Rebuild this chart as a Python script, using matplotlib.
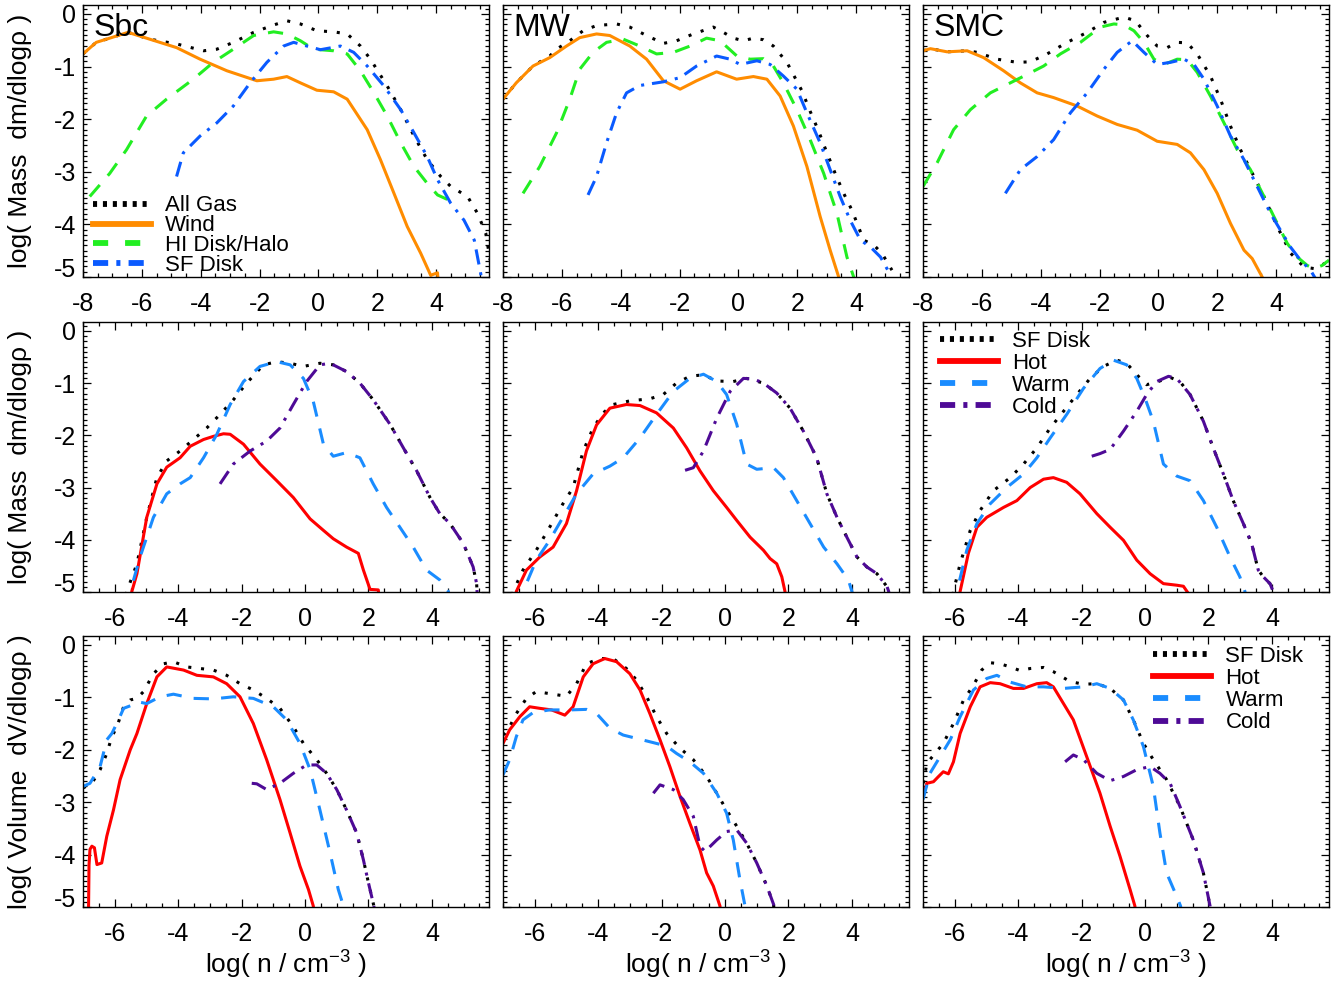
import matplotlib
matplotlib.use("Agg")
import matplotlib.pyplot as plt
from matplotlib.ticker import MultipleLocator
from matplotlib.transforms import ScaledTranslation

plt.rcParams['font.family'] = ['Liberation Sans', 'DejaVu Sans']
plt.rcParams['axes.unicode_minus'] = False
plt.rcParams['mathtext.default'] = 'regular'

# ---------------- data: top row (Mass, gas components) ----------------
sbc_all_x = [-8.0, -7.55, -7.09, -6.47, -5.73, -4.82, -3.9, -3.45, -2.89, -2.2, -1.52, -1.07, -0.61, -0.05, 0.52, 0.98, 1.43, 1.77, 2.34, 2.8, 3.25, 3.7, 4.16, 4.5, 5.07, 5.41, 5.69, 5.84]
sbc_all_y = [-0.76, -0.54, -0.46, -0.35, -0.48, -0.57, -0.70, -0.67, -0.54, -0.35, -0.21, -0.13, -0.19, -0.32, -0.34, -0.38, -0.61, -0.86, -1.37, -1.82, -2.32, -2.77, -3.09, -3.28, -3.47, -3.79, -4.17, -4.68]
sbc_wind_x = [-8.0, -7.55, -7.09, -6.47, -5.73, -4.82, -4.02, -3.11, -2.09, -1.52, -1.07, -0.61, -0.05, 0.52, 0.98, 1.66, 2.11, 2.57, 3.02, 3.48, 3.82, 3.9, 4.05, 4.1]
sbc_wind_y = [-0.76, -0.54, -0.46, -0.35, -0.48, -0.64, -0.86, -1.08, -1.27, -1.24, -1.19, -1.31, -1.45, -1.48, -1.62, -2.2, -2.77, -3.41, -4.04, -4.55, -4.97, -4.95, -4.92, -5.3]
sbc_hi_x = [-7.77, -7.09, -6.52, -5.84, -5.16, -4.25, -3.57, -2.89, -2.2, -1.52, -1.07, -0.61, -0.16, 0.52, 0.98, 1.43, 1.89, 2.34, 2.8, 3.25, 3.7, 4.05, 4.44]
sbc_hi_y = [-3.47, -3.03, -2.58, -1.94, -1.62, -1.24, -0.92, -0.67, -0.41, -0.34, -0.38, -0.51, -0.67, -0.70, -0.76, -1.08, -1.5, -1.94, -2.45, -2.9, -3.22, -3.44, -3.54]
sbc_sf_x = [-4.82, -4.59, -4.02, -3.45, -2.89, -2.32, -1.75, -1.18, -0.84, -0.39, 0.07, 0.75, 1.2, 1.66, 2.23, 2.8, 3.25, 3.7, 4.05, 4.5, 4.95, 5.3, 5.52, 5.58]
sbc_sf_y = [-3.09, -2.64, -2.32, -2.07, -1.75, -1.31, -0.92, -0.61, -0.54, -0.61, -0.68, -0.61, -0.73, -0.99, -1.37, -1.82, -2.26, -2.71, -3.15, -3.6, -3.92, -4.3, -4.94, -5.3]

mw_all_x = [-8.0, -7.55, -6.98, -6.41, -6.18, -5.73, -5.28, -4.82, -4.14, -3.69, -3.12, -2.55, -2.1, -1.53, -0.85, -0.51, -0.17, 0.17, 0.51, 0.85, 1.19, 1.65, 2.16, 2.44, 2.73, 3.01, 3.29, 3.58, 3.86, 4.26, 4.6, 4.88, 5.22]
mw_all_y = [-1.62, -1.31, -0.99, -0.80, -0.67, -0.51, -0.32, -0.22, -0.19, -0.25, -0.41, -0.56, -0.51, -0.38, -0.25, -0.35, -0.46, -0.51, -0.46, -0.49, -0.61, -0.92, -1.46, -1.85, -2.23, -2.64, -3.03, -3.41, -3.73, -4.3, -4.39, -4.55, -4.87]
mw_wind_x = [-8.0, -7.55, -6.98, -6.41, -5.84, -5.39, -4.82, -4.37, -3.69, -3.12, -2.55, -1.98, -1.42, -0.74, -0.06, 0.51, 0.97, 1.42, 1.87, 2.33, 2.78, 3.12, 3.41, 3.5]
mw_wind_y = [-1.62, -1.31, -0.99, -0.83, -0.61, -0.45, -0.38, -0.41, -0.61, -0.86, -1.27, -1.43, -1.27, -1.1, -1.24, -1.19, -1.24, -1.56, -2.13, -2.9, -3.85, -4.49, -5.0, -5.3]
mw_hi_x = [-7.32, -6.75, -6.18, -5.73, -5.39, -4.94, -4.48, -3.91, -3.35, -2.78, -2.21, -1.64, -1.08, -0.62, -0.05, 0.4, 0.85, 1.19, 1.53, 1.99, 2.44, 2.9, 3.35, 3.69, 3.92, 3.98]
mw_hi_y = [-3.41, -2.9, -2.26, -1.62, -1.05, -0.73, -0.54, -0.48, -0.61, -0.76, -0.73, -0.61, -0.46, -0.51, -0.80, -0.86, -0.85, -0.99, -1.31, -1.82, -2.39, -3.03, -3.79, -4.62, -5.0, -5.3]
mw_sf_x = [-5.11, -4.82, -4.48, -4.14, -3.8, -3.35, -2.55, -1.98, -1.42, -0.74, -0.28, 0.06, 0.63, 1.08, 1.53, 1.99, 2.33, 2.78, 3.12, 3.46, 3.8, 4.15, 4.49, 4.83, 5.11]
mw_sf_y = [-3.44, -3.09, -2.45, -1.88, -1.5, -1.36, -1.29, -1.21, -0.99, -0.80, -0.86, -0.96, -0.89, -0.96, -1.18, -1.43, -1.88, -2.45, -2.96, -3.47, -3.92, -4.3, -4.43, -4.62, -4.9]

smc_all_x = [-8.0, -7.75, -7.18, -6.5, -6.16, -5.48, -4.8, -4.35, -3.78, -3.1, -2.42, -1.85, -1.17, -0.78, -0.38, -0.04, 0.3, 0.64, 0.98, 1.32, 1.77, 2.11, 2.45, 2.79, 3.25, 3.59, 4.04, 4.5, 4.95, 5.29, 5.63, 5.8]
smc_all_y = [-0.70, -0.66, -0.72, -0.70, -0.73, -0.86, -0.92, -0.91, -0.76, -0.54, -0.35, -0.16, -0.06, -0.13, -0.41, -0.61, -0.64, -0.54, -0.55, -0.76, -1.18, -1.62, -2.13, -2.58, -3.09, -3.47, -4.04, -4.55, -4.81, -4.84, -4.75, -4.68]
smc_wind_x = [-8.0, -7.75, -7.18, -6.5, -5.94, -5.26, -4.69, -4.12, -3.56, -2.76, -2.08, -1.4, -0.72, -0.04, 0.64, 1.09, 1.55, 2.0, 2.45, 2.91, 3.19, 3.53, 3.6]
smc_wind_y = [-0.70, -0.66, -0.72, -0.70, -0.83, -1.08, -1.31, -1.5, -1.59, -1.75, -1.94, -2.1, -2.21, -2.42, -2.48, -2.64, -2.96, -3.41, -3.98, -4.49, -4.65, -5.0, -5.3]
smc_hi_x = [-8.0, -7.52, -6.96, -6.39, -5.71, -5.14, -4.46, -3.9, -3.33, -2.65, -1.97, -1.51, -1.17, -0.83, -0.49, -0.15, 0.19, 0.64, 0.98, 1.32, 1.77, 2.23, 2.68, 3.13, 3.59, 4.04, 4.38, 4.72, 5.06, 5.29, 5.57, 5.8]
smc_hi_y = [-3.28, -2.83, -2.2, -1.82, -1.5, -1.34, -1.15, -0.99, -0.76, -0.54, -0.25, -0.19, -0.21, -0.32, -0.54, -0.86, -0.96, -0.86, -0.87, -1.11, -1.56, -2.07, -2.58, -2.96, -3.47, -3.98, -4.36, -4.62, -4.78, -4.84, -4.78, -4.68]
smc_sf_x = [-5.2, -4.69, -4.12, -3.56, -2.99, -2.42, -1.85, -1.4, -0.89, -0.49, -0.04, 0.41, 0.87, 1.21, 1.55, 2.0, 2.45, 2.91, 3.36, 3.81, 4.15, 4.49, 4.83, 5.17, 5.34]
smc_sf_y = [-3.41, -2.96, -2.71, -2.39, -1.88, -1.5, -1.05, -0.73, -0.51, -0.73, -0.96, -0.92, -0.86, -0.96, -1.24, -1.75, -2.32, -2.77, -3.28, -3.79, -4.11, -4.43, -4.68, -4.87, -5.03]

# ---------------- data: middle row (Mass, SF disk phases) ----------------
m_sbc_all_x = [-5.7, -5.62, -5.3, -4.99, -4.67, -4.36, -3.94, -3.52, -3.1, -2.68, -2.26, -1.84, -1.31, -0.89, -0.47, -0.05, 0.47, 0.89, 1.31, 1.73, 2.15, 2.68, 3.1, 3.52, 3.94, 4.25, 4.57, 4.99, 5.3, 5.41, 5.45]
m_sbc_all_y = [-5.3, -4.99, -4.46, -3.57, -2.81, -2.49, -2.3, -2.08, -1.86, -1.6, -1.32, -1.0, -0.65, -0.59, -0.62, -0.68, -0.62, -0.65, -0.78, -1.0, -1.32, -1.79, -2.24, -2.68, -3.19, -3.5, -3.69, -4.07, -4.52, -4.84, -5.3]
m_sbc_hot_x = [-5.5, -5.46, -5.3, -4.99, -4.67, -4.36, -3.94, -3.62, -3.2, -2.89, -2.57, -2.36, -1.94, -1.42, -0.89, -0.37, 0.16, 0.58, 0.89, 1.31, 1.68, 1.84, 2.05, 2.31, 2.36]
m_sbc_hot_y = [-5.3, -4.99, -4.65, -3.57, -2.93, -2.61, -2.43, -2.21, -2.08, -2.02, -1.97, -1.98, -2.17, -2.55, -2.87, -3.19, -3.6, -3.82, -3.98, -4.14, -4.26, -4.58, -4.95, -4.96, -5.3]
m_sbc_warm_x = [-5.56, -5.51, -5.2, -4.78, -4.36, -3.94, -3.62, -3.2, -2.78, -2.36, -1.94, -1.42, -0.89, -0.47, -0.05, 0.26, 0.58, 0.89, 1.31, 1.73, 2.15, 2.57, 2.99, 3.41, 3.83, 4.25, 4.52, 4.6]
m_sbc_warm_y = [-5.3, -4.99, -4.33, -3.57, -3.12, -2.93, -2.81, -2.43, -1.98, -1.41, -0.97, -0.68, -0.59, -0.65, -0.91, -1.35, -2.17, -2.4, -2.33, -2.43, -2.93, -3.38, -3.76, -4.14, -4.58, -4.77, -4.99, -5.3]
m_sbc_cold_x = [-2.68, -2.26, -1.73, -1.21, -0.79, -0.37, 0.05, 0.47, 0.79, 1.31, 1.73, 2.15, 2.68, 3.1, 3.52, 3.94, 4.25, 4.57, 4.99, 5.3, 5.41, 5.45]
m_sbc_cold_y = [-2.93, -2.55, -2.3, -2.11, -1.86, -1.41, -0.97, -0.65, -0.62, -0.78, -1.0, -1.32, -1.79, -2.24, -2.68, -3.19, -3.5, -3.69, -4.07, -4.52, -4.84, -5.3]

m_mw_all_x = [-6.75, -6.68, -6.37, -5.95, -5.53, -5.11, -4.79, -4.47, -4.16, -3.84, -3.53, -3.0, -2.37, -1.95, -1.53, -1.11, -0.68, -0.26, 0.26, 0.68, 1.21, 1.63, 2.05, 2.47, 2.89, 3.21, 3.53, 3.84, 4.16, 4.47, 4.79, 5.11, 5.16, 5.2]
m_mw_all_y = [-5.3, -4.99, -4.58, -4.2, -3.76, -3.31, -3.0, -2.3, -1.86, -1.57, -1.41, -1.34, -1.3, -1.22, -1.0, -0.87, -0.84, -0.96, -0.97, -0.91, -1.0, -1.19, -1.48, -1.92, -2.43, -3.12, -3.57, -3.95, -4.33, -4.52, -4.65, -4.9, -4.99, -5.3]
m_mw_hot_x = [-6.65, -6.58, -6.26, -5.84, -5.42, -5.0, -4.68, -4.37, -4.05, -3.63, -3.11, -2.68, -2.16, -1.63, -1.21, -0.79, -0.37, 0.05, 0.37, 0.79, 1.21, 1.42, 1.63, 1.79, 1.89, 1.92]
m_mw_hot_y = [-5.3, -4.99, -4.58, -4.33, -4.14, -3.69, -3.06, -2.3, -1.8, -1.48, -1.41, -1.43, -1.57, -1.86, -2.24, -2.68, -3.06, -3.38, -3.63, -3.95, -4.2, -4.36, -4.46, -4.71, -4.99, -5.3]
m_mw_warm_x = [-6.43, -6.37, -5.95, -5.53, -5.11, -4.68, -4.16, -3.63, -3.21, -2.68, -2.16, -1.63, -1.11, -0.68, -0.26, 0.05, 0.37, 0.68, 1.0, 1.53, 1.84, 2.26, 2.68, 3.11, 3.53, 3.89, 4.0, 4.05]
m_mw_warm_y = [-5.3, -4.99, -4.39, -4.01, -3.57, -3.12, -2.74, -2.59, -2.43, -2.05, -1.6, -1.16, -0.91, -0.83, -0.97, -1.22, -1.79, -2.55, -2.65, -2.62, -2.81, -3.25, -3.69, -4.14, -4.46, -4.77, -4.99, -5.3]
m_mw_cold_x = [-1.26, -1.0, -0.68, -0.26, 0.16, 0.58, 0.89, 1.21, 1.63, 2.05, 2.47, 2.89, 3.21, 3.53, 3.84, 4.16, 4.47, 4.79, 5.11, 5.16, 5.2]
m_mw_cold_y = [-2.67, -2.62, -2.3, -1.67, -1.16, -0.91, -0.92, -1.0, -1.19, -1.48, -1.92, -2.43, -3.12, -3.57, -3.95, -4.33, -4.52, -4.65, -4.9, -4.99, -5.3]

m_smc_all_x = [-6.1, -6.04, -5.83, -5.51, -5.2, -4.78, -4.25, -3.83, -3.41, -2.99, -2.57, -2.15, -1.73, -1.31, -0.89, -0.58, -0.26, 0.05, 0.37, 0.79, 1.1, 1.42, 1.84, 2.15, 2.47, 2.78, 3.1, 3.36, 3.57, 3.73, 3.94, 4.04, 4.1]
m_smc_all_y = [-5.3, -4.99, -4.46, -3.82, -3.44, -3.06, -2.81, -2.55, -2.24, -1.86, -1.54, -1.22, -0.91, -0.68, -0.56, -0.62, -0.84, -1.03, -0.98, -0.89, -0.97, -1.22, -1.73, -2.24, -2.74, -3.25, -3.69, -4.07, -4.58, -4.71, -4.84, -4.99, -5.3]
m_smc_hot_x = [-5.88, -5.83, -5.57, -5.3, -4.99, -4.46, -4.04, -3.62, -3.2, -2.89, -2.47, -2.05, -1.52, -1.1, -0.68, -0.26, 0.16, 0.58, 1.0, 1.21, 1.37, 1.45]
m_smc_hot_y = [-5.3, -4.99, -4.26, -3.76, -3.57, -3.38, -3.25, -3.0, -2.84, -2.81, -2.9, -3.12, -3.5, -3.76, -4.01, -4.39, -4.65, -4.84, -4.87, -4.89, -5.03, -5.3]
m_smc_warm_x = [-5.98, -5.93, -5.62, -5.3, -4.88, -4.36, -3.83, -3.41, -2.99, -2.47, -1.94, -1.42, -1.0, -0.58, -0.26, 0.0, 0.26, 0.58, 1.0, 1.42, 1.84, 2.26, 2.68, 2.99, 3.15, 3.2]
m_smc_warm_y = [-5.3, -4.99, -4.2, -3.69, -3.31, -3.0, -2.74, -2.43, -2.05, -1.6, -1.1, -0.72, -0.56, -0.65, -0.91, -1.29, -1.73, -2.55, -2.78, -2.87, -3.25, -3.76, -4.33, -4.71, -4.99, -5.3]
m_smc_cold_x = [-1.68, -1.42, -1.1, -0.68, -0.26, 0.05, 0.37, 0.74, 1.0, 1.42, 1.84, 2.15, 2.47, 2.78, 3.1, 3.36, 3.57, 3.73, 3.94, 4.04, 4.1]
m_smc_cold_y = [-2.4, -2.35, -2.27, -1.92, -1.54, -1.22, -0.97, -0.87, -0.91, -1.22, -1.73, -2.24, -2.74, -3.25, -3.69, -4.07, -4.58, -4.71, -4.84, -4.99, -5.3]

# ---------------- data: bottom row (Volume, SF disk phases) ----------------
v_sbc_all_x = [-7.0, -6.72, -6.46, -6.25, -6.09, -5.93, -5.72, -5.51, -5.3, -5.09, -4.78, -4.46, -4.15, -3.73, -3.31, -2.89, -2.47, -2.05, -1.63, -1.21, -0.79, -0.37, -0.05, 0.37, 0.68, 1.0, 1.31, 1.63, 1.84, 2.0, 2.17, 2.22]
v_sbc_all_y = [-2.73, -2.64, -2.38, -2.07, -1.75, -1.56, -1.18, -1.05, -1.02, -0.89, -0.55, -0.36, -0.32, -0.42, -0.45, -0.48, -0.58, -0.74, -0.86, -1.02, -1.21, -1.56, -1.88, -2.19, -2.45, -2.76, -3.15, -3.59, -4.1, -4.54, -4.98, -5.3]
v_sbc_hot_x = [-6.83, -6.81, -6.78, -6.72, -6.64, -6.56, -6.41, -6.25, -6.04, -5.83, -5.51, -5.3, -4.99, -4.67, -4.36, -3.83, -3.41, -2.89, -2.47, -2.05, -1.63, -1.21, -0.79, -0.47, -0.16, 0.11, 0.26, 0.32]
v_sbc_hot_y = [-5.3, -4.2, -3.9, -3.84, -3.87, -4.19, -4.16, -3.65, -3.15, -2.57, -2.0, -1.69, -1.12, -0.61, -0.42, -0.48, -0.58, -0.61, -0.74, -0.99, -1.5, -2.19, -2.95, -3.59, -4.22, -4.67, -4.98, -5.3]
v_sbc_warm_x = [-7.0, -6.78, -6.46, -6.25, -6.09, -5.88, -5.72, -5.46, -5.3, -4.99, -4.57, -4.15, -3.52, -2.89, -2.26, -1.63, -1.0, -0.58, -0.16, 0.16, 0.47, 0.79, 1.05, 1.21, 1.27]
v_sbc_warm_y = [-2.7, -2.64, -2.32, -1.81, -1.69, -1.43, -1.21, -1.15, -1.08, -1.12, -0.99, -0.94, -1.02, -1.03, -0.99, -1.02, -1.18, -1.43, -1.88, -2.38, -3.15, -3.97, -4.67, -4.98, -5.3]
v_sbc_cold_x = [-1.68, -1.52, -1.21, -0.79, -0.37, 0.05, 0.37, 0.68, 1.0, 1.31, 1.63, 1.84, 2.0, 2.17, 2.22]
v_sbc_cold_y = [-2.64, -2.65, -2.76, -2.64, -2.45, -2.29, -2.29, -2.45, -2.76, -3.15, -3.59, -4.1, -4.54, -4.98, -5.3]

v_mw_all_x = [-7.0, -6.79, -6.58, -6.26, -5.95, -5.53, -5.0, -4.68, -4.37, -3.95, -3.53, -3.11, -2.79, -2.47, -2.16, -1.84, -1.42, -1.0, -0.58, -0.26, 0.05, 0.37, 0.68, 1.0, 1.32, 1.53, 1.58]
v_mw_all_y = [-1.72, -1.56, -1.31, -1.02, -0.89, -0.93, -0.98, -0.74, -0.36, -0.26, -0.26, -0.45, -0.67, -0.99, -1.37, -1.69, -1.97, -2.19, -2.51, -2.83, -3.15, -3.46, -3.78, -4.16, -4.6, -4.95, -5.3]
v_mw_hot_x = [-7.0, -6.79, -6.47, -6.16, -5.84, -5.47, -5.05, -4.79, -4.47, -4.16, -3.79, -3.42, -3.0, -2.68, -2.37, -2.05, -1.74, -1.42, -1.11, -0.79, -0.58, -0.37, -0.16, -0.12]
v_mw_hot_y = [-1.88, -1.62, -1.37, -1.18, -1.21, -1.24, -1.34, -1.18, -0.61, -0.36, -0.26, -0.32, -0.55, -0.86, -1.31, -1.81, -2.32, -2.89, -3.4, -3.91, -4.35, -4.6, -4.98, -5.3]
v_mw_warm_x = [-7.0, -6.79, -6.58, -6.37, -6.05, -5.53, -4.89, -4.37, -4.05, -3.63, -3.21, -2.68, -2.16, -1.84, -1.53, -1.11, -0.68, -0.26, 0.05, 0.26, 0.47, 0.63, 0.66]
v_mw_warm_y = [-2.48, -2.19, -1.75, -1.43, -1.29, -1.24, -1.24, -1.23, -1.31, -1.59, -1.72, -1.8, -1.88, -1.93, -2.07, -2.23, -2.45, -2.83, -3.21, -3.72, -4.48, -4.98, -5.3]
v_mw_cold_x = [-2.26, -2.05, -1.63, -1.32, -1.0, -0.79, -0.63, -0.26, 0.05, 0.37, 0.68, 1.0, 1.32, 1.53, 1.58]
v_mw_cold_y = [-2.83, -2.67, -2.76, -2.95, -3.27, -3.84, -3.94, -3.72, -3.56, -3.53, -3.78, -4.16, -4.6, -4.95, -5.3]

v_smc_all_x = [-6.99, -6.88, -6.62, -6.36, -6.04, -5.72, -5.41, -5.15, -4.88, -4.57, -4.25, -3.94, -3.62, -3.2, -2.89, -2.36, -1.94, -1.52, -1.1, -0.68, -0.37, -0.05, 0.26, 0.68, 1.1, 1.52, 1.84, 2.05, 2.1]
v_smc_all_y = [-2.64, -2.26, -2.07, -1.88, -1.5, -1.05, -0.77, -0.48, -0.34, -0.36, -0.42, -0.49, -0.45, -0.43, -0.51, -0.7, -0.75, -0.74, -0.83, -1.05, -1.43, -1.88, -2.19, -2.57, -3.08, -3.72, -4.35, -4.98, -5.3]
v_smc_hot_x = [-7.0, -6.88, -6.67, -6.51, -6.36, -6.2, -6.04, -5.83, -5.51, -5.2, -4.88, -4.57, -4.15, -3.83, -3.41, -3.1, -2.89, -2.57, -2.26, -1.84, -1.42, -1.1, -0.79, -0.47, -0.32, -0.28]
v_smc_hot_y = [-2.89, -2.64, -2.61, -2.51, -2.42, -2.46, -2.23, -1.69, -1.18, -0.8, -0.72, -0.74, -0.83, -0.83, -0.74, -0.72, -0.8, -1.12, -1.43, -2.13, -2.83, -3.46, -4.03, -4.67, -4.98, -5.3]
v_smc_warm_x = [-7.0, -6.78, -6.46, -6.14, -5.83, -5.41, -4.99, -4.67, -4.25, -3.73, -3.2, -2.57, -1.94, -1.52, -1.1, -0.68, -0.37, -0.05, 0.26, 0.47, 0.68, 0.95, 1.12, 1.18]
v_smc_warm_y = [-2.95, -2.45, -2.13, -1.81, -1.37, -0.86, -0.64, -0.58, -0.71, -0.8, -0.8, -0.83, -0.8, -0.74, -0.83, -1.05, -1.43, -1.94, -2.7, -3.59, -4.35, -4.73, -4.98, -5.3]
v_smc_cold_x = [-2.52, -2.26, -1.94, -1.52, -1.1, -0.68, -0.26, 0.16, 0.47, 0.79, 1.1, 1.52, 1.84, 2.05, 2.1]
v_smc_cold_y = [-2.23, -2.1, -2.19, -2.45, -2.59, -2.51, -2.38, -2.32, -2.45, -2.64, -3.08, -3.72, -4.35, -4.98, -5.3]

galaxy_names = ["Sbc", "MW", "SMC"]
top_labels = ["All Gas", "Wind", "HI Disk/Halo", "SF Disk"]
phase_labels = ["SF Disk", "Hot", "Warm", "Cold"]
x_ticks_top = [-8, -6, -4, -2, 0, 2, 4]
x_ticks_low = [-6, -4, -2, 0, 2, 4]
y_ticks = [0, -1, -2, -3, -4, -5]

# ---------------- styles ----------------
DOT = (0, (1, 3.2))
DASH = (0, (5, 4))
DASHDOT = (0, (5, 2.6, 1, 2.6))
LW = 2.2
# legend handles are drawn thicker, with their own (shorter) patterns
LEG_LS = [(0, (0.7, 1.0)), "-", (0, (2.6, 2.9)), (0, (2.6, 1.4, 0.7, 1.4))]
top_styles = [dict(color="black", ls=DOT), dict(color="#FF8C00", ls="-"),
              dict(color="#22EE22", ls=DASH), dict(color="#0A5AFF", ls=DASHDOT)]
phase_styles = [dict(color="black", ls=DOT), dict(color="#FF0000", ls="-"),
                dict(color="#1A8CFF", ls=DASH), dict(color="#4E0A96", ls=DASHDOT)]

top_series = [
    [(sbc_all_x, sbc_all_y), (sbc_wind_x, sbc_wind_y), (sbc_hi_x, sbc_hi_y), (sbc_sf_x, sbc_sf_y)],
    [(mw_all_x, mw_all_y), (mw_wind_x, mw_wind_y), (mw_hi_x, mw_hi_y), (mw_sf_x, mw_sf_y)],
    [(smc_all_x, smc_all_y), (smc_wind_x, smc_wind_y), (smc_hi_x, smc_hi_y), (smc_sf_x, smc_sf_y)],
]
mid_series = [
    [(m_sbc_all_x, m_sbc_all_y), (m_sbc_hot_x, m_sbc_hot_y), (m_sbc_warm_x, m_sbc_warm_y), (m_sbc_cold_x, m_sbc_cold_y)],
    [(m_mw_all_x, m_mw_all_y), (m_mw_hot_x, m_mw_hot_y), (m_mw_warm_x, m_mw_warm_y), (m_mw_cold_x, m_mw_cold_y)],
    [(m_smc_all_x, m_smc_all_y), (m_smc_hot_x, m_smc_hot_y), (m_smc_warm_x, m_smc_warm_y), (m_smc_cold_x, m_smc_cold_y)],
]
bot_series = [
    [(v_sbc_all_x, v_sbc_all_y), (v_sbc_hot_x, v_sbc_hot_y), (v_sbc_warm_x, v_sbc_warm_y), (v_sbc_cold_x, v_sbc_cold_y)],
    [(v_mw_all_x, v_mw_all_y), (v_mw_hot_x, v_mw_hot_y), (v_mw_warm_x, v_mw_warm_y), (v_mw_cold_x, v_mw_cold_y)],
    [(v_smc_all_x, v_smc_all_y), (v_smc_hot_x, v_smc_hot_y), (v_smc_warm_x, v_smc_warm_y), (v_smc_cold_x, v_smc_cold_y)],
]

W, H = 1336, 986
fig = plt.figure(figsize=(W / 100, H / 100), dpi=100)

col_left = [83, 503, 923]
col_w = 406
row_top = [5, 322, 636]
row_bot = [277, 592, 907]

TICKFS = 18


def make_ax(r, c, xlim, xticks):
    l = col_left[c] / W
    b = 1 - row_bot[r] / H
    h = (row_bot[r] - row_top[r]) / H
    ax = fig.add_axes([l, b, col_w / W, h])
    ax.set_xlim(*xlim)
    ax.set_ylim(-5.0, 0.17)
    ax.set_xticks(xticks)
    ax.set_xticklabels([str(t) for t in xticks])
    ax.set_yticks(y_ticks)
    if c == 0:
        ax.set_yticklabels([str(t) for t in y_ticks])
    else:
        ax.set_yticklabels([])
    ax.xaxis.set_minor_locator(MultipleLocator(0.5))
    ax.yaxis.set_minor_locator(MultipleLocator(0.1))
    ax.tick_params(which="both", direction="in", top=True, right=True, width=0.9, labelsize=TICKFS)
    ax.tick_params(which="major", length=6)
    ax.tick_params(which="minor", length=3)
    ax.tick_params(axis="x", pad=11)
    ax.tick_params(axis="y", pad=5)
    for s in ax.spines.values():
        s.set_linewidth(1.0)
    if c == 0:
        # the lowest label sits a little above its tick, as in the original
        lowest = ax.yaxis.get_major_ticks()[-1].label1
        lowest.set_transform(lowest.get_transform() + ScaledTranslation(0, 7 / 72, fig.dpi_scale_trans))
    return ax


def add_legend(ax, handles, labels, anchor, spacing):
    leg = ax.legend(handles, labels, loc="upper left", bbox_to_anchor=anchor, frameon=False,
                    fontsize=16, handlelength=2.6, handletextpad=0.65, labelspacing=spacing,
                    borderpad=0, borderaxespad=0)
    for ln, ls in zip(leg.get_lines(), LEG_LS):
        ln.set_linewidth(4.2)
        ln.set_linestyle(ls)
    return leg


for c in range(3):
    # top row
    ax = make_ax(0, c, (-8, 5.8), x_ticks_top)
    handles = []
    for (xs, ys), st in zip(top_series[c], top_styles):
        h, = ax.plot(xs, ys, lw=LW, **st)
        handles.append(h)
    ax.text(0.025, 0.885, galaxy_names[c], transform=ax.transAxes, fontsize=23,
            ha="left", va="baseline")
    if c == 0:
        add_legend(ax, handles, top_labels, (0.025, 0.30), -0.05)

    # middle row
    ax = make_ax(1, c, (-7, 5.8), x_ticks_low)
    handles = []
    for (xs, ys), st in zip(mid_series[c], phase_styles):
        h, = ax.plot(xs, ys, lw=LW, **st)
        handles.append(h)
    if c == 2:
        add_legend(ax, handles, phase_labels, (0.042, 0.967), 0.05)

    # bottom row
    ax = make_ax(2, c, (-7, 5.8), x_ticks_low)
    handles = []
    for (xs, ys), st in zip(bot_series[c], phase_styles):
        h, = ax.plot(xs, ys, lw=LW, **st)
        handles.append(h)
    if c == 2:
        add_legend(ax, handles, phase_labels, (0.567, 0.963), 0.05)
    fig.text((col_left[c] + col_w / 2) / W, 1 - 965 / H, r"log( n / cm$^{-3}$ )",
             ha="center", va="center", fontsize=19)

# y labels
fig.text(20 / W, 1 - 141 / H, "log( Mass  dm/dlogρ )", rotation=90, ha="center", va="center", fontsize=19)
fig.text(20 / W, 1 - 457 / H, "log( Mass  dm/dlogρ )", rotation=90, ha="center", va="center", fontsize=19)
fig.text(20 / W, 1 - 772 / H, "log( Volume  dV/dlogρ )", rotation=90, ha="center", va="center", fontsize=19)

fig.savefig("out.png", dpi=100, facecolor="white")
